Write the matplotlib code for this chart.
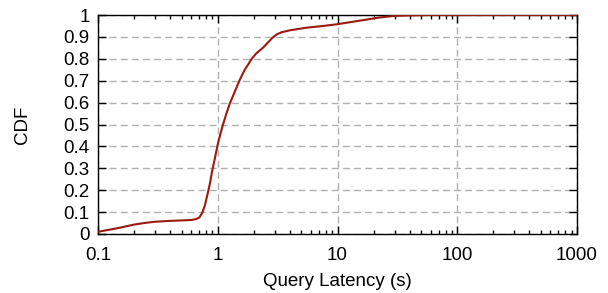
import matplotlib
matplotlib.use("Agg")
import matplotlib.pyplot as plt
import numpy as np

latency = [0.1, 0.12, 0.15, 0.2, 0.25, 0.3, 0.4, 0.5, 0.6, 0.66, 0.7, 0.74, 0.78, 0.82, 0.86, 0.9, 0.95, 1.0,
           1.05, 1.1, 1.18, 1.26, 1.4, 1.53, 1.68, 1.8, 1.92, 2.1, 2.38, 2.6, 2.88, 3.1, 3.4, 4.0, 5.5,
           7.6, 10.0, 13.0, 17.0, 22.0, 30.0, 40.0, 60.0, 100.0, 1000.0]
cdf = [0.01, 0.018, 0.028, 0.043, 0.051, 0.056, 0.06, 0.062, 0.064, 0.068, 0.075, 0.095, 0.13, 0.18, 0.23,
       0.29, 0.35, 0.41, 0.455, 0.495, 0.55, 0.595, 0.655, 0.705, 0.75, 0.775, 0.8, 0.825, 0.85, 0.872, 0.897,
       0.911, 0.921, 0.93, 0.942, 0.95, 0.958, 0.968, 0.978, 0.988, 0.996, 0.998, 1.0, 1.0, 1.0]

xticks = [0.1, 1, 10, 100, 1000]
xticklabels = ["0.1", "1", "10", "100", "1000"]
yticks = [0, 0.1, 0.2, 0.3, 0.4, 0.5, 0.6, 0.7, 0.8, 0.9, 1]
yticklabels = ["0", "0.1", "0.2", "0.3", "0.4", "0.5", "0.6", "0.7", "0.8", "0.9", "1"]

plt.rcParams['font.family'] = ['Liberation Sans', 'DejaVu Sans']

fig = plt.figure(figsize=(6.08, 2.93), dpi=100)
ax = fig.add_axes([98/608, 59/293, 479/608, 219/293])

ax.plot(latency, cdf, color='#9a1a10', lw=1.5, zorder=3)
ax.set_xscale('log')
ax.set_xlim(0.1, 1000)
ax.set_ylim(0, 1)
ax.set_xticks(xticks)
ax.set_xticklabels(xticklabels)
ax.set_yticks(yticks)
ax.set_yticklabels(yticklabels)
ax.minorticks_on()
ax.yaxis.set_minor_locator(matplotlib.ticker.NullLocator())
ax.tick_params(which='both', direction='in', top=True, right=True, labelsize=13.5)
ax.tick_params(axis='x', which='both', pad=9)
ax.tick_params(axis='y', which='both', pad=6)
ax.tick_params(which='major', length=6, width=1)
ax.tick_params(which='minor', length=3, width=1)
ax.grid(True, which='major', color='#b0b0b0', linestyle=(0, (5, 3)), lw=1)
for s in ax.spines.values():
    s.set_linewidth(1)
ax.set_xlabel("Query Latency (s)", fontsize=13.5, labelpad=7)
ax.set_ylabel("CDF", fontsize=13.5, labelpad=23)

fig.savefig("out.png", dpi=100)
